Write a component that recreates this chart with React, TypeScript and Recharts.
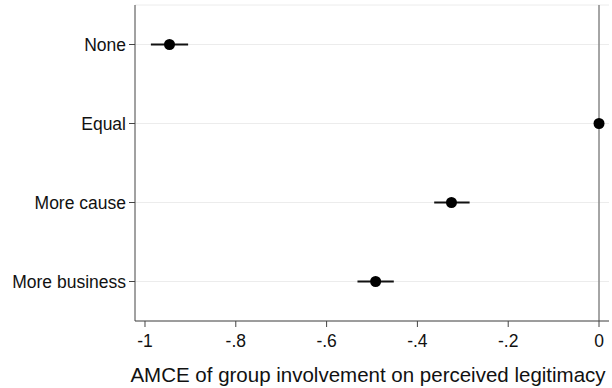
import {
  ComposedChart,
  Scatter,
  ErrorBar,
  XAxis,
  YAxis,
  CartesianGrid,
  ReferenceLine,
} from "recharts";

const categories = ["None", "Equal", "More cause", "More business"];
const estimates = [-0.946, 0, -0.325, -0.492];
const ciLow = [-0.987, 0, -0.363, -0.532];
const ciHigh = [-0.905, 0, -0.285, -0.452];
const xTicks = [-1, -0.8, -0.6, -0.4, -0.2, 0];
const xTickLabels = ["-1", "-.8", "-.6", "-.4", "-.2", "0"];

const data = categories.map((name, i) => ({
  name,
  pos: categories.length - i,
  est: estimates[i],
  err: [estimates[i] - ciLow[i], ciHigh[i] - estimates[i]],
}));

const font = "Arial, 'Liberation Sans', sans-serif";

const Dot = (props: any) => (
  <circle cx={props.cx} cy={props.cy} r={5.5} fill="#000" />
);

export default function App() {
  return (
    <div style={{ position: "absolute", left: 0, top: 0, background: "#fff" }}>
      <ComposedChart
        width={612}
        height={388}
        data={data}
        margin={{ top: 5, right: 3, bottom: 0, left: 0 }}
        style={{ fontFamily: font }}
      >
        <CartesianGrid horizontal vertical={false} stroke="#ececec" />
        <XAxis
          type="number"
          dataKey="est"
          domain={[-1.022, 0.022]}
          ticks={xTicks}
          tickFormatter={(v: number) => xTickLabels[xTicks.indexOf(v)] ?? String(v)}
          height={67}
          stroke="#444"
          tickSize={6}
          tickMargin={8}
          tick={{ fill: "#111", fontSize: 17.5 }}
          label={{
            value: "AMCE of group involvement on perceived legitimacy",
            position: "insideBottom",
            offset: 6,
            dx: -4,
            fill: "#111",
            fontSize: 20.5,
          }}
        />
        <YAxis
          type="number"
          dataKey="pos"
          domain={[0.5, 4.5]}
          ticks={[1, 2, 3, 4]}
          tickFormatter={(v: number) => categories[categories.length - v] ?? ""}
          width={135}
          stroke="#444"
          tickSize={6}
          tickMargin={3}
          tick={{ fill: "#111", fontSize: 17.5 }}
        />
        <ReferenceLine x={0} stroke="#888" strokeWidth={1.5} />
        <Scatter dataKey="pos" shape={Dot} isAnimationActive={false}>
          <ErrorBar
            dataKey="err"
            direction="x"
            width={0}
            stroke="#111"
            strokeWidth={2}
            isAnimationActive={false}
          />
        </Scatter>
      </ComposedChart>
    </div>
  );
}
